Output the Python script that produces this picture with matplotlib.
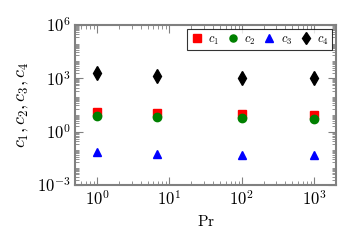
import numpy as np
import matplotlib
matplotlib.use('Agg')
import matplotlib.pyplot as plt
from matplotlib.ticker import FuncFormatter, LogLocator

plt.rcParams['font.family'] = 'DejaVu Serif'
plt.rcParams['mathtext.fontset'] = 'cm'

Pr = [1, 6.8, 100, 1000]
c1 = [13, 11, 9.5, 9]
c2 = [8, 7, 6, 5.4]
c3 = [0.074, 0.057, 0.05, 0.05]
c4 = [1900, 1400, 1100, 1100]

fig = plt.figure(figsize=(3.5, 2.5), dpi=100)
ax = fig.add_axes([0.215, 0.26, 0.745, 0.64])

ax.plot(Pr, c1, 's', color='red', ms=6, label='$c_1$')
ax.plot(Pr, c2, 'o', color='green', ms=6, label='$c_2$')
ax.plot(Pr, c3, '^', color='blue', ms=6, label='$c_3$')
ax.plot(Pr, c4, 'd', color='black', ms=7, label='$c_4$')

ax.set_xscale('log')
ax.set_yscale('log')
ax.set_xlim(0.5, 2000)
ax.set_ylim(1e-3, 1e6)
ax.set_yticks([1e-3, 1e0, 1e3, 1e6])
ax.set_xticks([1, 10, 100, 1000])
ax.yaxis.set_minor_locator(LogLocator(base=10, subs=np.arange(2, 10), numticks=30))
fmt = FuncFormatter(lambda v, p: '$10^{%d}$' % round(np.log10(v)))
ax.xaxis.set_major_formatter(fmt)
ax.yaxis.set_major_formatter(fmt)

for s in ax.spines.values():
    s.set_color('gray')
    s.set_linewidth(1.5)
ax.tick_params(which='both', direction='in', top=True, right=True, color='gray', labelsize=12)
ax.tick_params(which='major', length=6)
ax.tick_params(which='minor', length=3)

ax.set_xlabel(r'$\mathrm{Pr}$', fontsize=11)
ax.set_ylabel('$c_1,c_2,c_3,c_4$', fontsize=13)

leg = ax.legend(loc='upper right', ncol=4, fontsize=9, frameon=True, fancybox=False,
                edgecolor='black', handlelength=1, handletextpad=0.4, columnspacing=0.6,
                borderpad=0.3, borderaxespad=0.3, markerscale=0.85)
leg.get_frame().set_linewidth(0.8)

fig.savefig('out.png', dpi=100)
